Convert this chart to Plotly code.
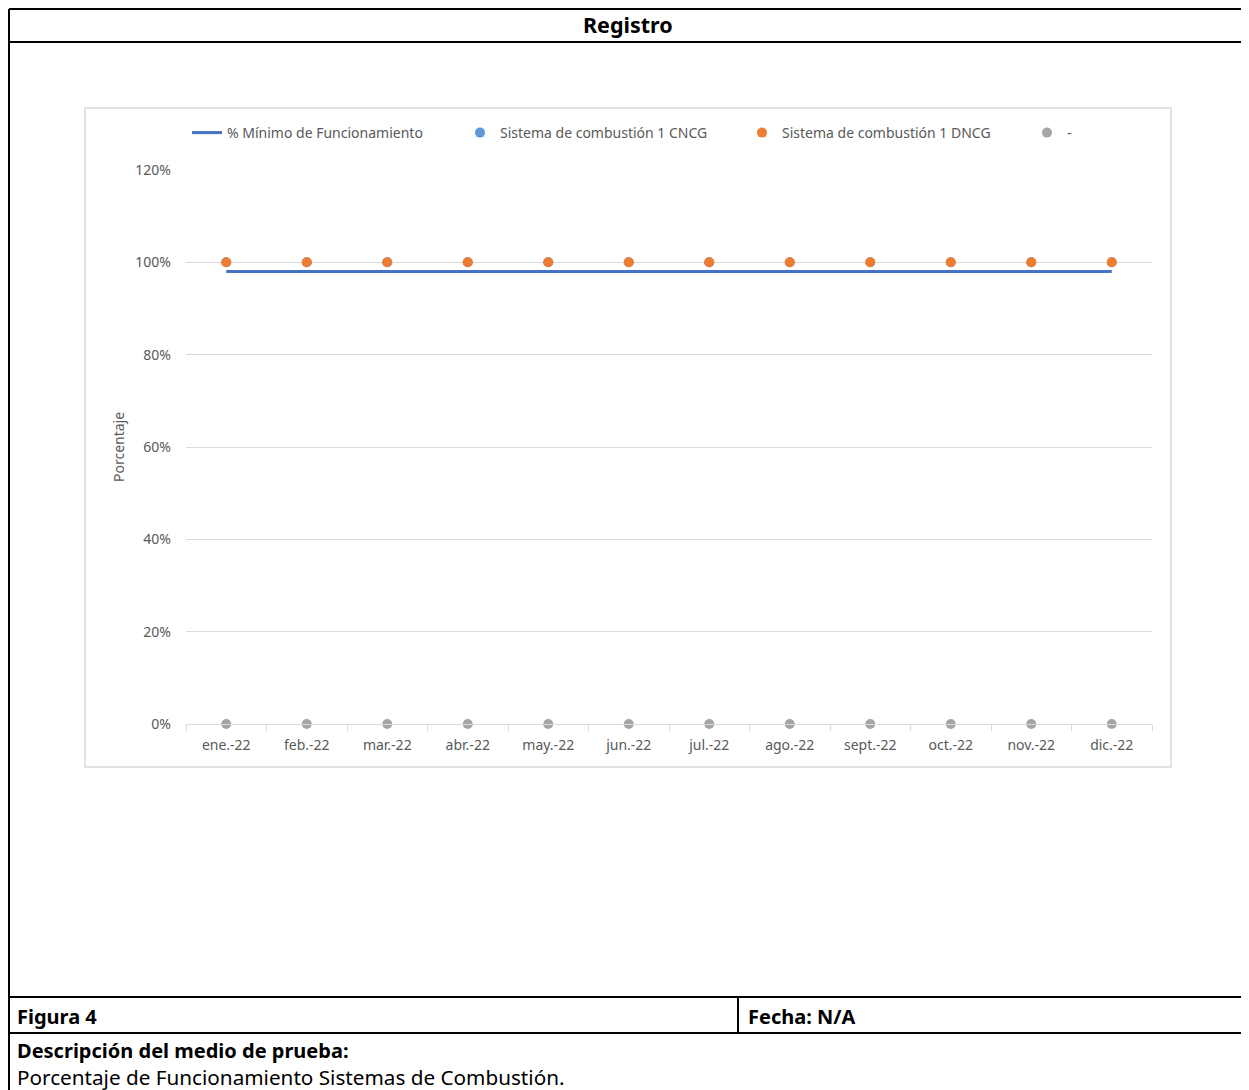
import plotly.graph_objects as go

# page is 1249x1090; the browser puts the figure 8px in from the top-left
OFF = 8
W, H = 1249 - OFF, 1090 - OFF

months = ["ene.-22", "feb.-22", "mar.-22", "abr.-22", "may.-22", "jun.-22",
          "jul.-22", "ago.-22", "sept.-22", "oct.-22", "nov.-22", "dic.-22"]
minimo = [0.98] * 12
cncg = [1.00] * 12
dncg = [1.00] * 12
guion = [0.00] * 12

y_ticks = [0, 0.2, 0.4, 0.6, 0.8, 1.0, 1.2]


def px(x):
    return max(x - OFF, 1) / W


def py(y):
    return 1 - max(y - OFF, 1) / H


FONT = "Noto Sans"
GREY = "#595959"
FS = 14

fig = go.Figure()
fig.add_trace(go.Scatter(x=months, y=minimo, mode="lines", name="% Mínimo de Funcionamiento",
                         line=dict(color="#4472C4", width=3), cliponaxis=False, legend="legend"))
fig.add_trace(go.Scatter(x=months, y=cncg, mode="markers", name="Sistema de combustión 1 CNCG",
                         marker=dict(color="#5B9BD5", size=10), cliponaxis=False, legend="legend2"))
fig.add_trace(go.Scatter(x=months, y=dncg, mode="markers", name="Sistema de combustión 1 DNCG",
                         marker=dict(color="#ED7D31", size=10), cliponaxis=False, legend="legend3"))
fig.add_trace(go.Scatter(x=months, y=guion, mode="markers", name="-",
                         marker=dict(color="#A5A5A5", size=10), cliponaxis=False, legend="legend4"))

shapes = []
shapes.append(dict(type="rect", xref="paper", yref="paper",
                   x0=px(85), x1=px(1171), y0=py(767), y1=py(108),
                   line=dict(color="#D9D9D9", width=1.5), layer="below"))
blk = dict(color="black", width=2)
for yy in [6, 42, 997, 1033]:
    shapes.append(dict(type="line", xref="paper", yref="paper",
                       x0=px(7), x1=1, y0=py(yy), y1=py(yy), line=blk))
shapes.append(dict(type="line", xref="paper", yref="paper",
                   x0=px(7), x1=px(7), y0=py(6), y1=0, line=blk))
shapes.append(dict(type="line", xref="paper", yref="paper",
                   x0=px(738), x1=px(738), y0=py(997), y1=py(1033), line=blk))

TS = 20
annotations = [
    dict(text="<b>Registro</b>", x=px(628), y=py(25), xref="paper", yref="paper",
         xanchor="center", yanchor="middle", showarrow=False,
         font=dict(family=FONT, size=21.5, color="black")),
    dict(text="<b>Figura 4</b>", x=px(15), y=py(1016), xref="paper", yref="paper",
         xanchor="left", yanchor="middle", showarrow=False,
         font=dict(family=FONT, size=TS, color="black")),
    dict(text="<b>Fecha: N/A</b>", x=px(746), y=py(1016), xref="paper", yref="paper",
         xanchor="left", yanchor="middle", showarrow=False,
         font=dict(family=FONT, size=TS, color="black")),
    dict(text="<b>Descripción del medio de prueba:</b>", x=px(15), y=py(1050), xref="paper", yref="paper",
         xanchor="left", yanchor="middle", showarrow=False,
         font=dict(family=FONT, size=TS, color="black")),
    dict(text="Porcentaje de Funcionamiento Sistemas de Combustión.", x=px(15), y=py(1077),
         xref="paper", yref="paper", xanchor="left", yanchor="middle", showarrow=False,
         font=dict(family=FONT, size=20.7, color="black")),
    dict(text="Porcentaje", x=px(119), y=py(447), xref="paper", yref="paper",
         xanchor="center", yanchor="middle", showarrow=False, textangle=-90,
         font=dict(family=FONT, size=FS, color=GREY)),
]


def leg(x):
    return dict(orientation="h", x=px(x), y=py(133), xanchor="left", yanchor="middle",
                font=dict(family=FONT, size=FS, color=GREY), bgcolor="rgba(0,0,0,0)",
                itemclick=False, itemdoubleclick=False)


fig.update_layout(
    width=W, height=H,
    margin=dict(l=0, r=0, t=0, b=0, autoexpand=False),
    paper_bgcolor="white", plot_bgcolor="white",
    font=dict(family=FONT, size=FS, color=GREY),
    showlegend=True,
    legend=leg(187), legend2=leg(460), legend3=leg(742), legend4=leg(1027),
    shapes=shapes,
    annotations=annotations,
    xaxis=dict(domain=[px(186), px(1152)], type="category", range=[-0.5, 11.5],
               showgrid=False, showline=True, linecolor="#D9D9D9", linewidth=1,
               ticks="outside", tickson="boundaries", ticklen=6, tickcolor="#D9D9D9",
               ticklabelstandoff=8,
               tickfont=dict(size=FS, color=GREY), zeroline=False, fixedrange=True,
               automargin=False),
    yaxis=dict(domain=[py(724), py(170)], range=[0, 1.2], tickvals=y_ticks, tickformat=".0%",
               showgrid=True, gridcolor="#D9D9D9", gridwidth=1, zeroline=False,
               showline=False, ticks="", ticklabelstandoff=14,
               tickfont=dict(size=FS, color=GREY), fixedrange=True, automargin=False),
)

fig.write_html("out.html")
